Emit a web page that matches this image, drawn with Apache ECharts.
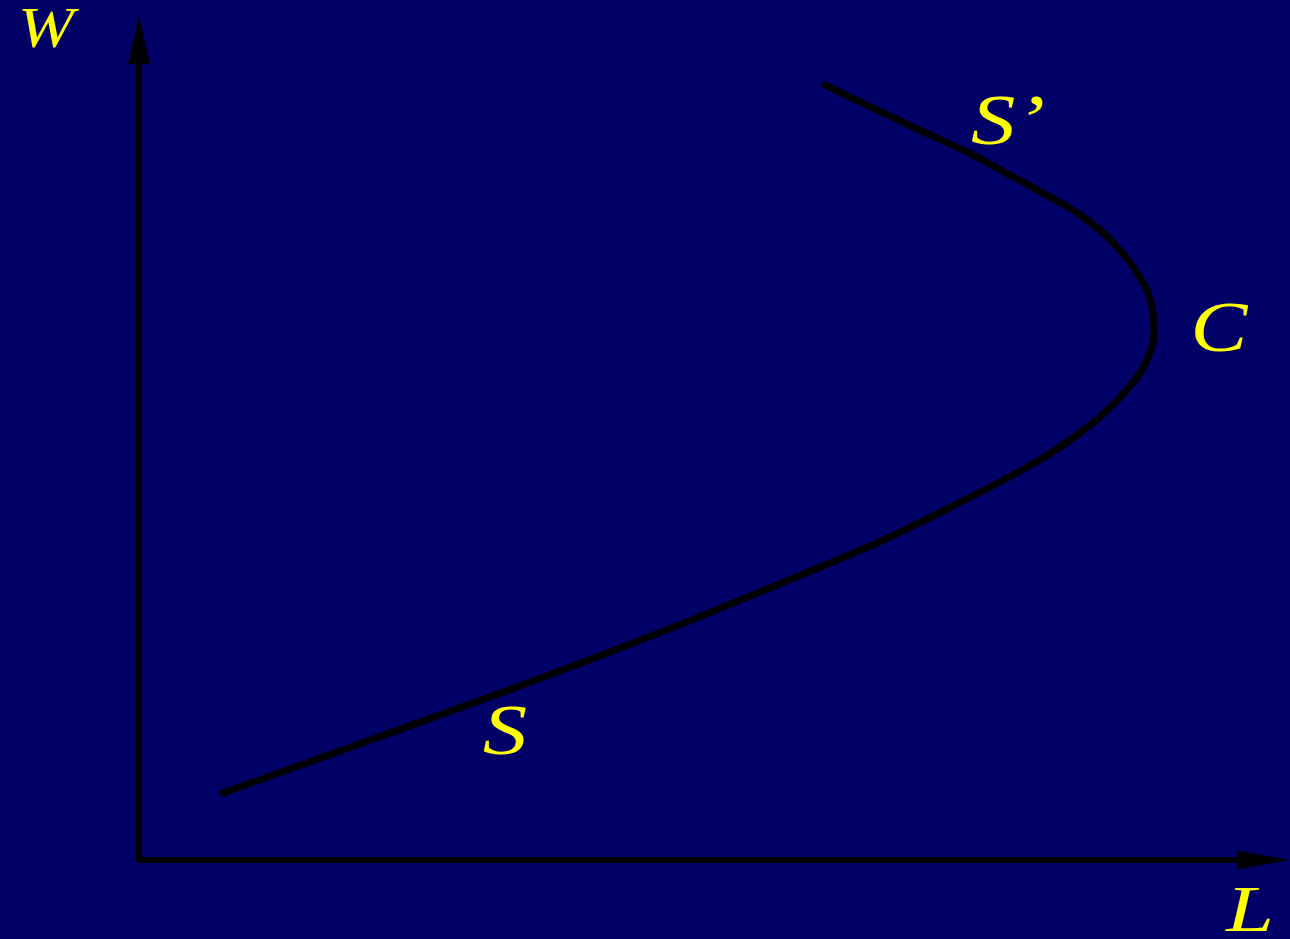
<!DOCTYPE html>
<html>
<head>
<meta charset="utf-8">
<title>backward bending labour supply</title>
<script src="https://cdn.jsdelivr.net/npm/echarts@6/dist/echarts.min.js"></script>
<style>
  html, body { margin: 0; padding: 0; background: #000066; }
  #main { width: 1290px; height: 939px; }
</style>
</head>
<body>
<div id="main"></div>
<script>
// curve, L (hours) and W (wage), bottom end first
let labour = [8.4, 37.8, 52.0, 65.0, 73.8, 81.2, 88.3, 92.1, 96.1, 98.6, 100.1, 101.1, 101.5, 101.4, 100.8, 99.4, 97.9, 96.1, 93.7, 91.1, 87.1, 82.8, 77.4, 68.6]
let wage = [6.7, 17.3, 22.7, 28.0, 31.7, 35.3, 39.0, 41.3, 44.3, 46.8, 48.7, 50.7, 52.7, 54.7, 57.0, 59.3, 61.2, 63.0, 64.8, 66.3, 68.5, 70.8, 73.3, 77.5]
let axisNames = ['L', 'W']
let curveLabels = ['S', 'S’', 'C']

let chart = echarts.init(document.getElementById('main'), null, { renderer: 'canvas' })

let points = []
for (let i = 0; i < labour.length; i++) {
  points.push([labour[i], wage[i]])
}

// yellow italic letters, a bit wider than Liberation Serif draws them
function label(text, x, y, size, sx) {
  return {
    type: 'text',
    x: x,
    y: y,
    scaleX: sx,
    style: {
      text: text,
      fill: '#ffff00',
      fontFamily: 'Liberation Serif',
      fontStyle: 'italic',
      fontSize: size,
      align: 'center',
      verticalAlign: 'middle'
    }
  }
}

let option = {
  backgroundColor: '#000066',
  animation: false,
  grid: { left: 139, right: 26, top: 40, bottom: 79 },
  xAxis: {
    type: 'value',
    min: 0,
    max: 112.5,
    axisLine: { show: true, lineStyle: { color: '#000', width: 6 }, symbol: ['none', 'triangle'], symbolSize: [19, 52] },
    axisTick: { show: false },
    axisLabel: { show: false },
    splitLine: { show: false }
  },
  yAxis: {
    type: 'value',
    min: 0,
    max: 82,
    axisLine: { show: true, lineStyle: { color: '#000', width: 6 }, symbol: ['none', 'triangle'], symbolSize: [22, 48] },
    axisTick: { show: false },
    axisLabel: { show: false },
    splitLine: { show: false }
  },
  series: [
    {
      type: 'line',
      data: points,
      smooth: 0.3,
      showSymbol: false,
      lineStyle: { color: '#000', width: 7, cap: 'round', join: 'round' }
    }
  ],
  graphic: [
    label(axisNames[1], 46, 32, 56, 1.2),
    label(axisNames[0], 1250, 914, 66, 1.3),
    label(curveLabels[0], 505, 735, 71, 1.25),
    label(curveLabels[1], 1008, 125, 71, 1.25),
    label(curveLabels[2], 1219, 332, 71, 1.2)
  ]
}

chart.setOption(option)
</script>
</body>
</html>
